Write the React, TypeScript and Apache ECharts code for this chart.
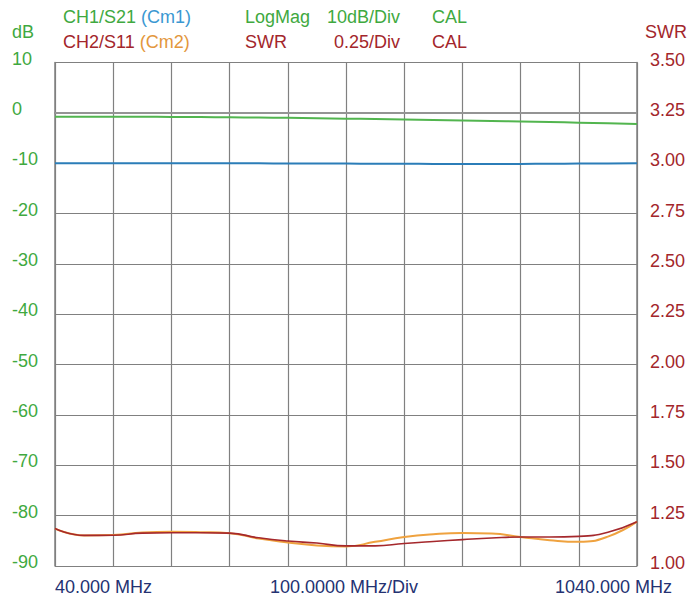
import React, { useEffect, useRef } from "react";
import * as echarts from "echarts";

// Frequency sample points (MHz)
const freqs = [40, 90, 140, 190, 240, 290, 340, 390, 440, 490, 540, 590, 640, 690, 740, 790, 840, 890, 940, 990, 1040];

// CH1/S21 LogMag (dB)
const s21 = [-0.75, -0.75, -0.75, -0.77, -0.8, -0.84, -0.88, -0.93, -0.98, -1.06, -1.15, -1.22, -1.3, -1.4, -1.5, -1.6, -1.7, -1.82, -1.95, -2.07, -2.2];
// Cm1 memory (dB)
const cm1 = [-10.0, -10.0, -10.0, -10.0, -10.0, -10.0, -10.02, -10.03, -10.05, -10.07, -10.08, -10.1, -10.12, -10.14, -10.15, -10.15, -10.14, -10.12, -10.08, -10.04, -10.0];
// CH2/S11 SWR
const swr = [1.186, 1.152, 1.153, 1.163, 1.165, 1.165, 1.163, 1.14, 1.124, 1.114, 1.1, 1.1, 1.112, 1.122, 1.131, 1.139, 1.144, 1.144, 1.147, 1.168, 1.22];
// Cm2 memory (SWR)
const cm2 = [1.186, 1.152, 1.154, 1.166, 1.17, 1.168, 1.163, 1.136, 1.117, 1.102, 1.097, 1.12, 1.144, 1.158, 1.164, 1.161, 1.144, 1.128, 1.12, 1.146, 1.22];

const dbTicks = { min: -90, max: 10, interval: 10 };
const swrTicks = { min: 1.0, max: 3.5, interval: 0.25 };

const GREEN = "#3fa93f";
const RED = "#a3262b";
const BLUE = "#3a98d2";
const ORANGE = "#e3973c";
const NAVY = "#243272";
const GRID = "#808080";
const FONT = "'Liberation Sans', Arial, sans-serif";

export default function App() {
  const ref = useRef<HTMLDivElement>(null);
  useEffect(() => {
    if (!ref.current) return;
    const chart = echarts.init(ref.current, null, { renderer: "svg" });
    const pairs = (ys: number[]) => freqs.map((f, i) => [f, ys[i]]);
    const ts = (color: string, extra: any = {}) => ({ fill: color, font: `18px ${FONT}`, ...extra });
    chart.setOption({
      animation: false,
      backgroundColor: "#ffffff",
      grid: { left: 55, right: 52, top: 62.5, bottom: 42, containLabel: false },
      xAxis: {
        type: "value",
        min: 40,
        max: 1040,
        interval: 100,
        axisLabel: { show: false },
        axisTick: { show: false },
        axisLine: { show: true, lineStyle: { color: GRID, width: 1.5 } },
        splitLine: { show: true, lineStyle: { color: GRID, width: 1.2 } },
      },
      yAxis: [
        {
          type: "value",
          ...dbTicks,
          position: "left",
          axisLine: { show: true, lineStyle: { color: GRID, width: 1.5 } },
          axisTick: { show: false },
          splitLine: { show: true, lineStyle: { color: GRID, width: 1.2 } },
          axisLabel: {
            color: GREEN,
            fontSize: 18,
            fontFamily: FONT,
            align: "left",
            margin: 43,
            verticalAlign: "bottom",
            lineHeight: 8,
          },
        },
        {
          type: "value",
          ...swrTicks,
          position: "right",
          axisLine: { show: true, lineStyle: { color: GRID, width: 1.5 } },
          axisTick: { show: false },
          splitLine: { show: false },
          axisLabel: {
            color: RED,
            fontSize: 18,
            fontFamily: FONT,
            align: "left",
            margin: 13,
            verticalAlign: "bottom",
            lineHeight: 6,
            formatter: (v: number) => v.toFixed(2),
          },
        },
      ],
      series: [
        {
          type: "line",
          yAxisIndex: 0,
          data: pairs(s21),
          smooth: true,
          symbol: "none",
          lineStyle: { color: "#52b54f", width: 2 },
          markLine: {
            silent: true,
            symbol: "none",
            label: { show: false },
            lineStyle: { color: "#949494", width: 2.2, type: "solid" },
            data: [{ yAxis: 0 }],
            z: 1,
          },
          z: 3,
        },
        {
          type: "line",
          yAxisIndex: 0,
          data: pairs(cm1),
          smooth: true,
          symbol: "none",
          lineStyle: { color: "#2b7db8", width: 2 },
          z: 3,
        },
        {
          type: "line",
          yAxisIndex: 1,
          data: pairs(cm2),
          smooth: true,
          symbol: "none",
          lineStyle: { color: "#efa23f", width: 2 },
          z: 3,
        },
        {
          type: "line",
          yAxisIndex: 1,
          data: pairs(swr),
          smooth: true,
          symbol: "none",
          lineStyle: { color: "#a5282c", width: 1.6 },
          z: 4,
        },
      ],
      graphic: [
        { type: "text", left: 12, top: 23, style: ts(GREEN, { text: "dB" }) },
        { type: "text", left: 645, top: 23, style: ts(RED, { text: "SWR" }) },
        {
          type: "text",
          left: 63,
          top: 8,
          style: {
            text: "{g|CH1/S21} {b|(Cm1)}",
            font: `18px ${FONT}`,
            rich: { g: { fill: GREEN, fontSize: 18, fontFamily: FONT }, b: { fill: BLUE, fontSize: 18, fontFamily: FONT } },
          },
        },
        {
          type: "text",
          left: 63,
          top: 33,
          style: {
            text: "{r|CH2/S11} {o|(Cm2)}",
            font: `18px ${FONT}`,
            rich: { r: { fill: RED, fontSize: 18, fontFamily: FONT }, o: { fill: ORANGE, fontSize: 18, fontFamily: FONT } },
          },
        },
        { type: "text", left: 245, top: 8, style: ts(GREEN, { text: "LogMag" }) },
        { type: "text", left: 245, top: 33, style: ts(RED, { text: "SWR" }) },
        { type: "text", right: 289, top: 8, style: ts(GREEN, { text: "10dB/Div" }) },
        { type: "text", right: 289, top: 33, style: ts(RED, { text: "0.25/Div" }) },
        { type: "text", left: 432, top: 8, style: ts(GREEN, { text: "CAL" }) },
        { type: "text", left: 432, top: 33, style: ts(RED, { text: "CAL" }) },
        { type: "text", left: 55, top: 578, style: ts(NAVY, { text: "40.000 MHz" }) },
        { type: "text", left: 270, top: 578, style: ts(NAVY, { text: "100.0000 MHz/Div" }) },
        { type: "text", right: 17, top: 578, style: ts(NAVY, { text: "1040.000 MHz" }) },
      ],
    });
    return () => chart.dispose();
  }, []);
  return (
    <div
      ref={ref}
      style={{ position: "fixed", left: 0, top: 0, width: 689, height: 608, background: "#fff" }}
    />
  );
}
